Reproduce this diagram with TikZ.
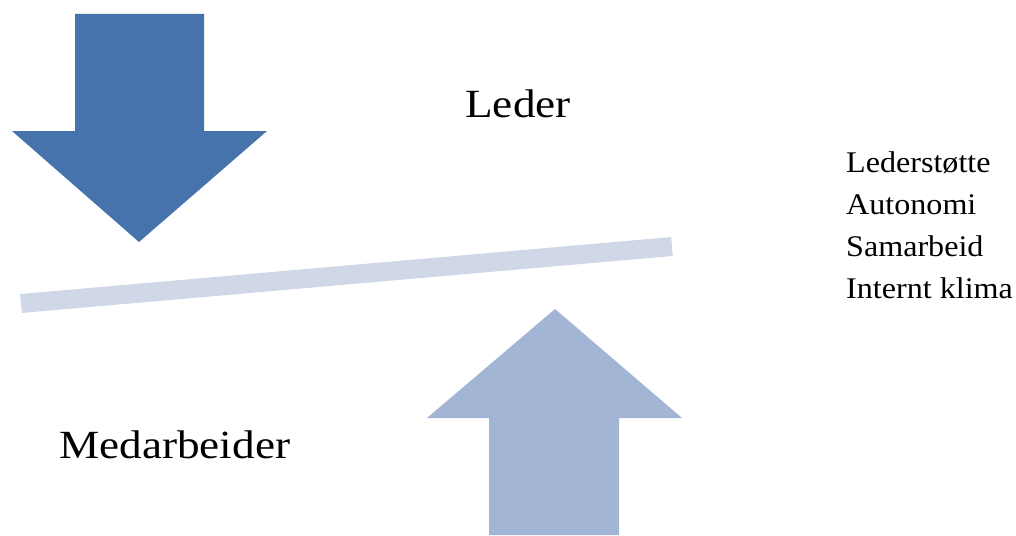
\documentclass[tikz,border=0pt]{standalone}
\usepackage{fontspec}
\setmainfont{Liberation Serif}
\newfontfamily\widefont[FakeStretch=1.13]{Liberation Serif}
\newfontfamily\listfont[FakeStretch=1.07]{Liberation Serif}
\definecolor{arrowdark}{HTML}{4673AB}
\definecolor{arrowlight}{HTML}{A2B5D4}
\definecolor{beam}{HTML}{D0D8E7}
\begin{document}
\begin{tikzpicture}[x=1pt,y=-1pt,
  biglabel/.style={inner sep=0pt,font=\widefont\fontsize{40}{44}\selectfont},
  listlabel/.style={inner sep=0pt,align=left,font=\listfont\fontsize{30}{42}\selectfont}]
\useasboundingbox (0,0) rectangle (1016,535);
% downward arrow from the leader
\fill[arrowdark] (75,14) -- (204,14) -- (204,131) -- (267,131) -- (139,242)
  -- (12,131) -- (75,131) -- cycle;
% upward arrow from the employee
\fill[arrowlight] (555,309) -- (682,418) -- (619,418) -- (619,535) -- (489,535)
  -- (489,418) -- (427,418) -- cycle;
% tilted beam
\coordinate (bl) at (21,303.5);
\coordinate (br) at (672,246.5);
\draw[beam,line width=19pt] (bl) -- (br);
% labels
\node[biglabel,anchor=base] (leder) at (518,117) {Leder};
\node[biglabel,anchor=base west] (med) at (59,458) {Medarbeider};
\node[listlabel,anchor=north west] (list) at (846,151)
  {Lederstøtte\\Autonomi\\Samarbeid\\Internt klima};
\end{tikzpicture}
\end{document}
